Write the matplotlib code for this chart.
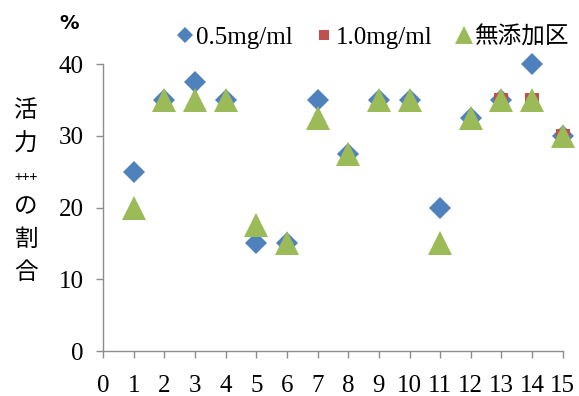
import matplotlib
matplotlib.use('Agg')
import matplotlib.pyplot as plt

nan = float('nan')

# data
x_vals = list(range(1, 16))
conc_05 = [25, 35, 37.5, 35, 15, 15, 35, 27.5, 35, 35, 20, 32.5, 35, 40, 30]
# the red series only shows at the last three points; the rest is hidden
conc_10 = [nan, nan, nan, nan, nan, nan, nan, nan, nan, nan, nan, nan, 35, 35, 30]
no_add = [20, 35, 35, 35, 17.5, 15, 32.5, 27.5, 35, 35, 15, 32.5, 35, 35, 30]
series_names = ['0.5mg/ml', '1.0mg/ml', '無添加区']
y_ticks = [0, 10, 20, 30, 40]
x_ticks = list(range(0, 16))
ylabel_chars = ['活', '力', '+++', 'の', '割', '合']

FAM = ['Liberation Serif', 'Noto Sans CJK JP', 'DejaVu Sans']
plt.rcParams['font.family'] = FAM
AXIS_GRAY = '#8c8c8c'

fig = plt.figure(figsize=(5.79, 3.96), dpi=100)
ax = fig.add_axes([0.178, 0.1136, 0.794, 0.7247])

ax.plot(x_vals, conc_05, linestyle='none', marker='D', markersize=11,
        color='#4F81BD', markeredgewidth=0, label=series_names[0], clip_on=False)
ax.plot(x_vals, conc_10, linestyle='none', marker='s', markersize=10,
        color='#C0504D', markeredgewidth=0, label=series_names[1], clip_on=False)
ax.plot(x_vals, no_add, linestyle='none', marker='^', markersize=17,
        color='#9BBB59', markeredgewidth=0, label=series_names[2], clip_on=False)

ax.set_xlim(0, 15)
ax.set_ylim(0, 40)
ax.set_xticks(x_ticks)
ax.set_yticks(y_ticks)
ax.tick_params(axis='both', direction='out', length=5, width=1,
               color=AXIS_GRAY, labelsize=18, pad=9)
ax.tick_params(axis='x', pad=12)

for s in ['top', 'right']:
    ax.spines[s].set_visible(False)
for s in ['left', 'bottom']:
    ax.spines[s].set_color(AXIS_GRAY)
    ax.spines[s].set_linewidth(1)
ax.spines['left'].set_zorder(0)
ax.spines['bottom'].set_zorder(0)

leg = ax.legend(ncol=3, loc='lower left', bbox_to_anchor=(0.135, 1.01),
                frameon=False, fontsize=18, handlelength=0.6,
                handletextpad=0.15, columnspacing=0.95, borderaxespad=0.1,
                markerscale=0.75)
leg.get_texts()[2].set_fontsize(17)

# vertical y label, one character per line
ys = [0.722, 0.636, 0.55, 0.477, 0.394, 0.313]
for ch, yy in zip(ylabel_chars, ys):
    fs = 10 if ch == '+++' else 17
    fig.text(0.045, yy, ch, ha='center', va='center', fontsize=fs,
             family=['Noto Sans CJK JP', 'DejaVu Sans'])

fig.text(0.12, 0.94, '%', ha='center', va='center', fontsize=14,
         fontweight='bold', family=['DejaVu Sans'])

fig.savefig('out.png', dpi=100, facecolor='white')
